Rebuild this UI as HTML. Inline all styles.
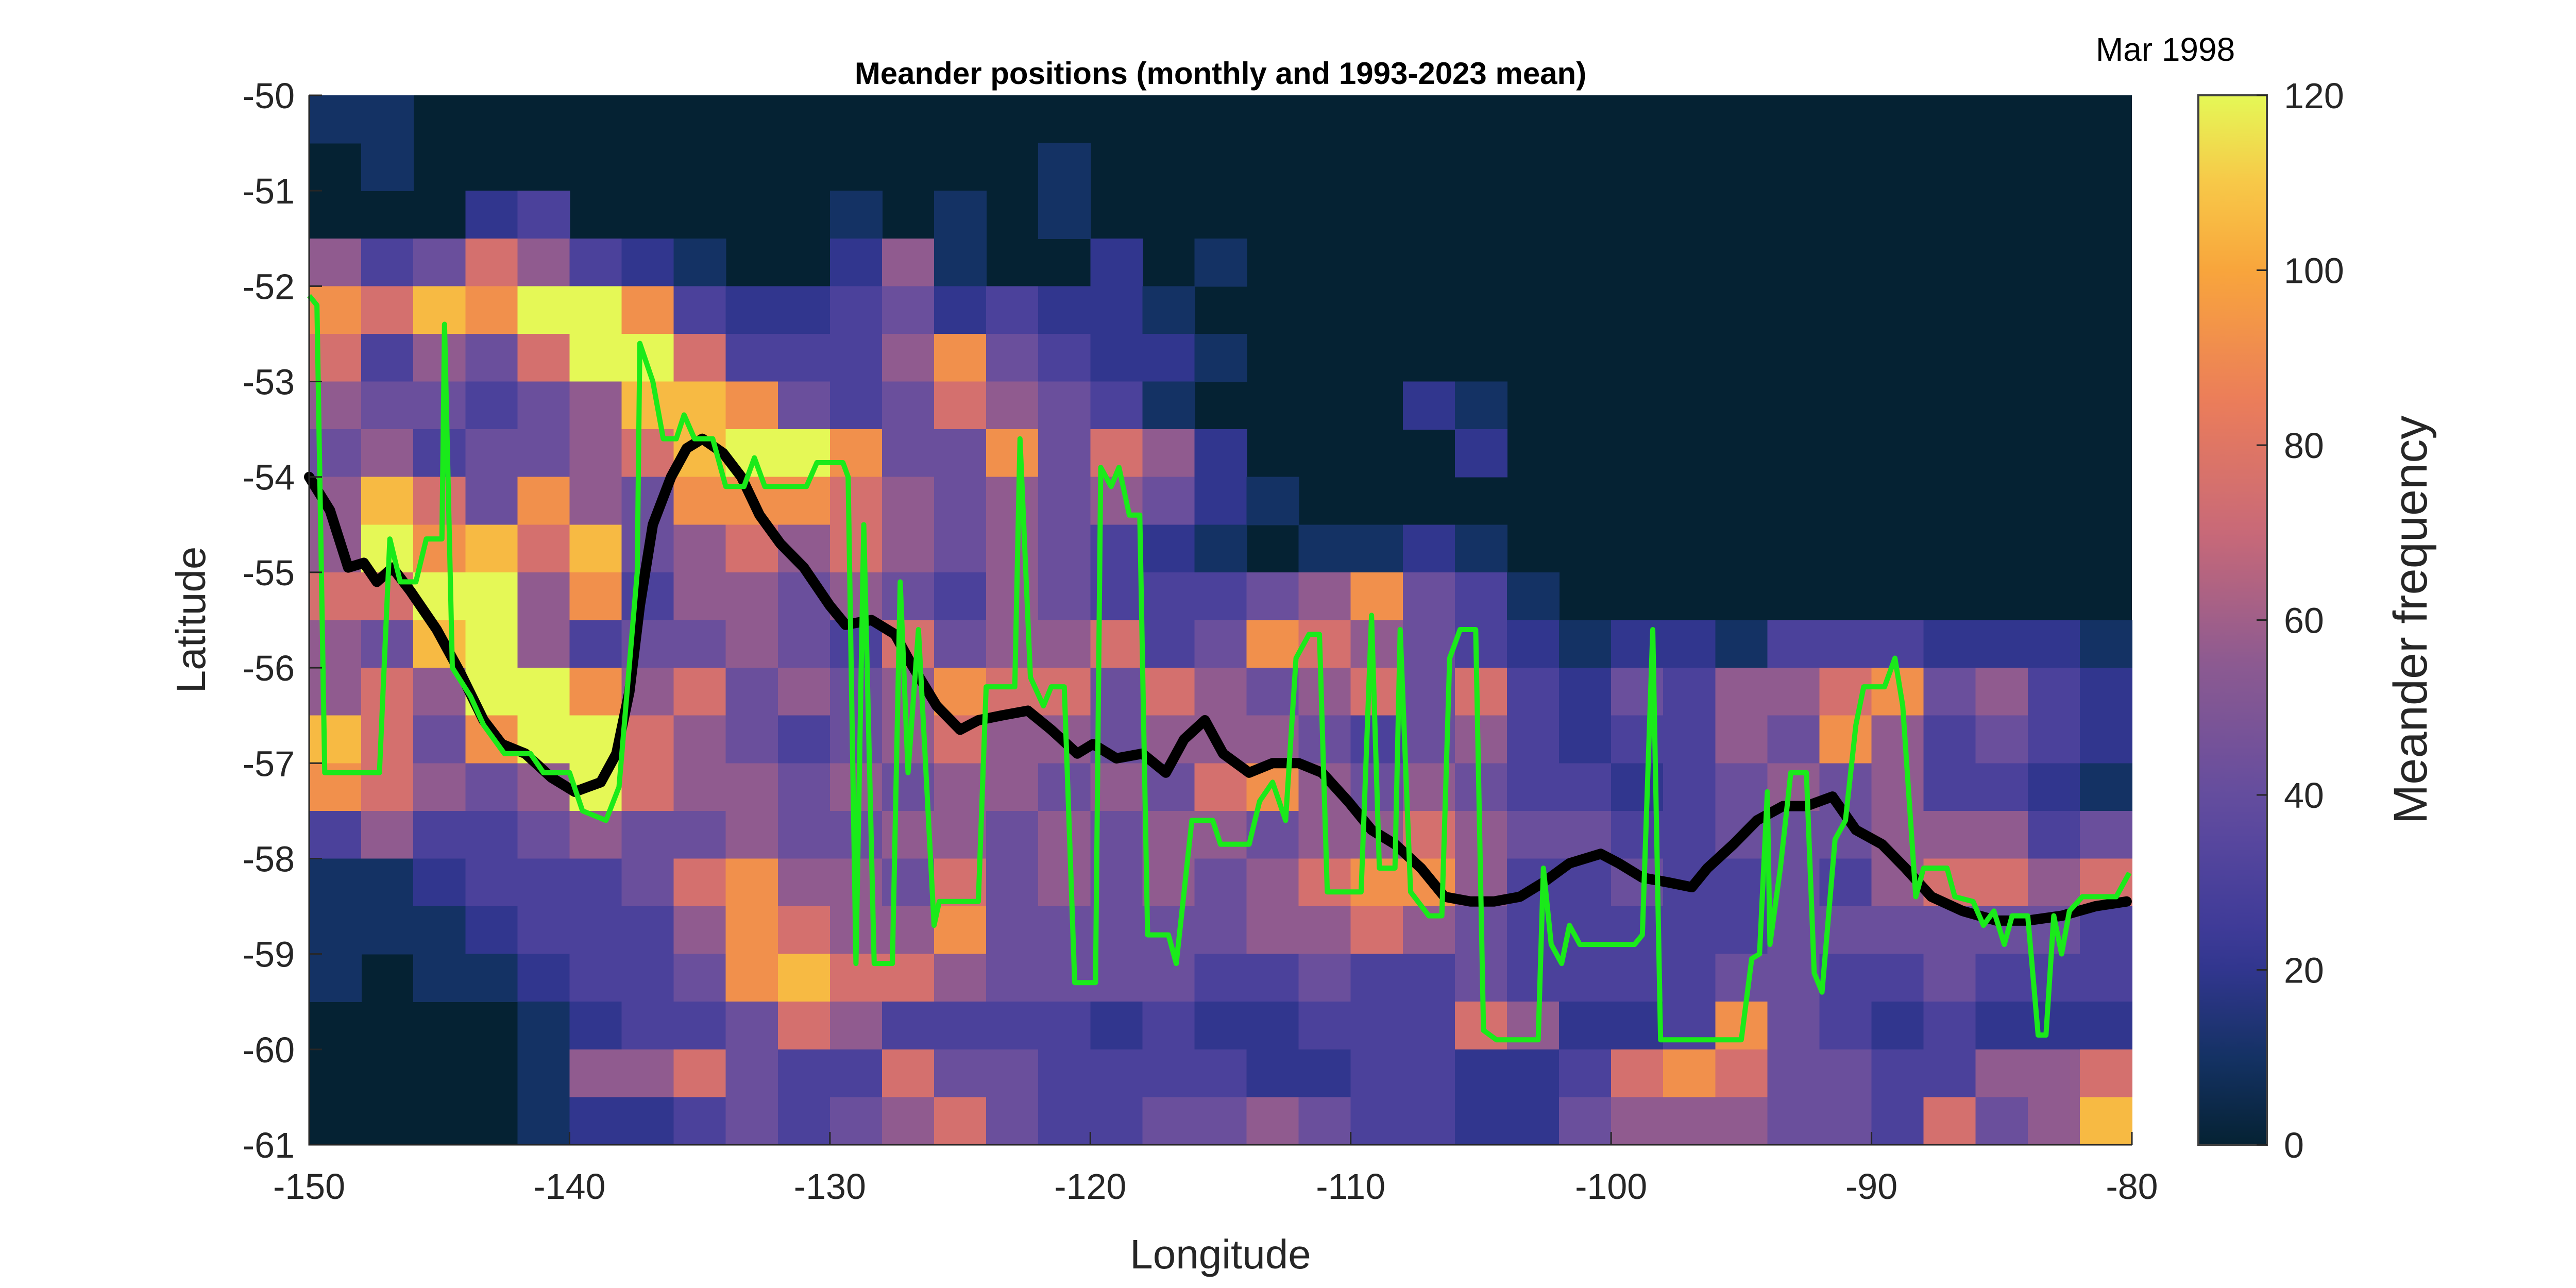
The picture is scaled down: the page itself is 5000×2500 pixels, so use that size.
<!DOCTYPE html>
<html><head><meta charset="utf-8"><style>
html,body{margin:0;padding:0;background:#fff}
svg{display:block}
text{font-family:"Liberation Sans",Arial,sans-serif;fill:#262626}
</style></head><body>
<svg id="chart" width="5000" height="2500" viewBox="0 0 5000 2500"></svg>
<script>
// ---- data ----
const lonTicks = [-150,-140,-130,-120,-110,-100,-90,-80];
const latTicks = [-50,-51,-52,-53,-54,-55,-56,-57,-58,-59,-60,-61];
const cbTicks = [0,20,40,60,80,100,120];
const cellLon0 = -150, cellDLon = 2, cellLat0 = -50, cellDLat = 0.5;
// frequency level for each digit code
const digitLevels = [0,10,20,30,42,56,75,92,106,120];
// heatmap rows top (-50) to bottom (-61)
const heatRows = [
"11000000000000000000000000000000000",
"01000000000000100000000000000000000",
"00023000001010100000000000000000000",
"53465321002510020100000000000000000",
"76879973223423221000000000000000000",
"63546996333574322100000000000000000",
"54434588743465431000021000000000000",
"45344568997447465200002000000000000",
"58647547776545454210000000000000000",
"59786845656545432101121000000000000",
"66995735545435433345743100000000000",
"54895344543645563476543212213332221",
"56599756454576646545646324355674532",
"86479965434565545554345323354753432",
"76545965545455454675454332345453321",
"35334544544554545545565443344455534",
"11233346755464545456775334334356656",
"11123335765574444455654333334444443",
"10112334786654444334334333344334333",
"00001233465333323223336522374323222",
"00001556433644333322332236764433556",
"00001223434564334454332245554436458"
];
const meanLon = [-150,-149.2,-148.5,-147.9,-147.4,-146.8,-146.1,-145.1,-144.2,-143.3,-142.6,-141.7,-140.7,-139.8,-138.8,-138.2,-137.7,-137.3,-136.8,-136.1,-135.5,-134.9,-134.1,-133.4,-132.7,-131.9,-131,-130,-129.4,-128.4,-127.5,-126.9,-125.9,-125,-124.3,-123.4,-122.4,-121.5,-120.5,-119.9,-119,-118,-117.1,-116.4,-115.6,-114.9,-113.9,-113,-112,-111.1,-110.1,-109.2,-108.3,-107.3,-106.4,-105.4,-104.5,-103.5,-102.6,-101.6,-101,-100.4,-99.7,-98.8,-97.8,-96.9,-96.3,-95.3,-94.4,-93.4,-92.5,-91.5,-90.6,-89.6,-88.7,-87.7,-86.5,-85.2,-84,-82.7,-81.4,-80.2];
const meanLat = [-54,-54.35,-54.95,-54.9,-55.1,-54.95,-55.2,-55.6,-56.05,-56.55,-56.8,-56.9,-57.15,-57.3,-57.2,-56.9,-56.25,-55.35,-54.5,-54,-53.7,-53.6,-53.75,-54,-54.4,-54.7,-54.95,-55.35,-55.55,-55.5,-55.65,-55.95,-56.4,-56.65,-56.55,-56.5,-56.45,-56.65,-56.9,-56.8,-56.95,-56.9,-57.1,-56.75,-56.55,-56.9,-57.1,-57,-57,-57.1,-57.4,-57.7,-57.85,-58.1,-58.4,-58.45,-58.45,-58.4,-58.25,-58.05,-58,-57.95,-58.05,-58.2,-58.25,-58.3,-58.1,-57.85,-57.6,-57.45,-57.45,-57.35,-57.7,-57.85,-58.1,-58.4,-58.55,-58.65,-58.65,-58.6,-58.5,-58.45];
const monLon = [-150,-149.7,-149.4,-147.3,-146.9,-146.5,-145.9,-145.5,-144.9,-144.8,-144.5,-143.8,-143.3,-142.5,-141.5,-141,-140,-139.5,-138.6,-138.1,-137.4,-137.3,-136.8,-136.4,-135.9,-135.6,-135.2,-134.5,-134,-133.3,-132.9,-132.5,-130.9,-130.5,-129.5,-129.3,-129,-128.7,-128.3,-127.6,-127.3,-127,-126.6,-126,-125.8,-124.3,-124,-122.9,-122.7,-122.3,-121.8,-121.5,-121,-120.6,-119.8,-119.6,-119.2,-118.9,-118.5,-118.1,-117.8,-117,-116.7,-116.1,-115.3,-115,-113.9,-113.5,-113,-112.5,-112.1,-111.6,-111.2,-110.9,-109.6,-109.2,-108.9,-108.3,-108.1,-107.7,-107,-106.5,-106.2,-105.8,-105.2,-104.9,-104.4,-102.8,-102.6,-102.3,-101.9,-101.6,-101.2,-100.4,-99.1,-98.8,-98.4,-98.1,-95,-94.6,-94.3,-94,-93.9,-93.5,-93.1,-92.5,-92.2,-91.9,-91.4,-91,-90.6,-90.3,-89.5,-89.1,-88.8,-88.3,-88,-87.1,-86.8,-86.1,-85.7,-85.3,-84.9,-84.6,-84,-83.6,-83.3,-83,-82.7,-82.4,-81.9,-80.6,-80.1];
const monLat = [-52.1,-52.2,-57.1,-57.1,-54.65,-55.1,-55.1,-54.65,-54.65,-52.4,-56,-56.3,-56.6,-56.9,-56.9,-57.1,-57.1,-57.5,-57.6,-57.25,-55,-52.6,-53,-53.6,-53.6,-53.35,-53.6,-53.6,-54.1,-54.1,-53.8,-54.1,-54.1,-53.85,-53.85,-54,-59.1,-54.5,-59.1,-59.1,-55.1,-57.1,-55.6,-58.7,-58.45,-58.45,-56.2,-56.2,-53.6,-56.1,-56.4,-56.2,-56.2,-59.3,-59.3,-53.9,-54.1,-53.9,-54.4,-54.4,-58.8,-58.8,-59.1,-57.6,-57.6,-57.85,-57.85,-57.4,-57.2,-57.6,-55.9,-55.65,-55.65,-58.35,-58.35,-55.45,-58.1,-58.1,-55.6,-58.35,-58.6,-58.6,-55.9,-55.6,-55.6,-59.8,-59.9,-59.9,-58.1,-58.9,-59.1,-58.7,-58.9,-58.9,-58.9,-58.8,-55.6,-59.9,-59.9,-59.05,-59,-57.3,-58.9,-58.1,-57.1,-57.1,-59.2,-59.4,-57.8,-57.6,-56.6,-56.2,-56.2,-55.9,-56.4,-58.4,-58.1,-58.1,-58.4,-58.45,-58.7,-58.55,-58.9,-58.6,-58.6,-59.85,-59.85,-58.6,-59,-58.55,-58.4,-58.4,-58.15];

// ---- layout / scales ----
const PL=600, PR=4138, PT=185, PB=2222;
const CBL=4267, CBR=4400;
const x = lon => PL + (lon + 150) / 70 * (PR - PL);
const y = lat => PT + (-50 - lat) / 11 * (PB - PT);
const cy = v => PB - v / 120 * (PB - PT);
const stops = [[0,[5,34,51]],[10,[20,50,100]],[22,[55,55,150]],[38,[95,75,160]],[55,[140,90,145]],[70,[200,105,120]],[85,[235,125,90]],[100,[248,165,60]],[110,[247,200,72]],[120,[229,248,86]]];
function cmap(v){
  if(v<=0) return 'rgb(5,34,51)';
  for(let i=1;i<stops.length;i++){ if(v<=stops[i][0]){const a=stops[i-1],b=stops[i];const t=(v-a[0])/(b[0]-a[0]);
    return 'rgb('+a[1].map((c,k)=>Math.round(c+(b[1][k]-c)*t)).join(',')+')';}}
  return 'rgb(229,248,86)';
}
const NS='http://www.w3.org/2000/svg';
const svg=document.getElementById('chart');
function el(tag,attrs,parent){const e=document.createElementNS(NS,tag);for(const k in attrs)e.setAttribute(k,attrs[k]);(parent||svg).appendChild(e);return e;}

const bg=el('rect',{x:PL,y:PT,width:PR-PL,height:PB-PT,fill:'rgb(5,34,51)'});


const gHeat=el('g',{'shape-rendering':'crispEdges'});


heatRows.forEach((row,j)=>{
  for(let i=0;i<row.length;i++){
    const v=digitLevels[Number(row[i])];
    if(v<=0) continue;
    const lon0=cellLon0+i*cellDLon, lat0=cellLat0-j*cellDLat;
    const r=el('rect',{x:x(lon0),y:y(lat0),width:x(lon0+cellDLon)-x(lon0)+1,height:y(lat0-cellDLat)-y(lat0)+1,fill:cmap(v)},gHeat);
    
    
  }
});
const mp=el('polyline',{points:meanLon.map((l,i)=>x(l)+','+y(meanLat[i])).join(' '),fill:'none',stroke:'#000','stroke-width':20,'stroke-linejoin':'round','stroke-linecap':'round'});


const gp=el('polyline',{points:monLon.map((l,i)=>x(l)+','+y(monLat[i])).join(' '),fill:'none',stroke:'#1aea1a','stroke-width':10,'stroke-linejoin':'round'});



const axl=el('path',{d:`M${PL},${PT} V${PB} H${PR}`,fill:'none',stroke:'#262626','stroke-width':3});


latTicks.forEach(t=>{
  const tk=el('line',{x1:PL,x2:PL+25,y1:y(t),y2:y(t),stroke:'#262626','stroke-width':3});
  
  
  const tx=el('text',{x:PL-28,y:y(t)+25,'text-anchor':'end','font-size':70});
  tx.textContent=String(t);
  
  
});
lonTicks.forEach(t=>{
  const tk=el('line',{x1:x(t),x2:x(t),y1:PB,y2:PB-25,stroke:'#262626','stroke-width':3});
  
  
  const tx=el('text',{x:x(t),y:PB+105,'text-anchor':'middle','font-size':70});
  tx.textContent=String(t);
  
  
});
const defs=el('defs',{});
const lg=el('linearGradient',{id:'cbg',x1:0,y1:1,x2:0,y2:0},defs);
for(let v=0;v<=120;v+=5){el('stop',{offset:v/120,'stop-color':cmap(v)},lg);}
const cb=el('rect',{x:CBL,y:PT,width:CBR-CBL,height:PB-PT,fill:'url(#cbg)',stroke:'#404040','stroke-width':4});


cbTicks.forEach(t=>{
  const tk=el('line',{x1:CBR-20,x2:CBR,y1:cy(t),y2:cy(t),stroke:'#262626','stroke-width':3});
  
  
  const tx=el('text',{x:CBR+33,y:cy(t)+25,'font-size':70});
  tx.textContent=String(t);
  
  
});
</script>
<script>
(function(){
const svg=document.getElementById('chart');
function txt(s,attrs,name){const e=document.createElementNS('http://www.w3.org/2000/svg','text');for(const k in attrs)e.setAttribute(k,attrs[k]);e.textContent=s;svg.appendChild(e);

}
txt('Meander positions (monthly and 1993-2023 mean)',{x:2369,y:163,'text-anchor':'middle','font-size':60,'font-weight':'bold',style:'fill:#000'},'chart-title');
txt('Mar 1998',{x:4203,y:118,'text-anchor':'middle','font-size':64,style:'fill:#000'},'date-label');
txt('Longitude',{x:2369,y:2462,'text-anchor':'middle','font-size':80},'x-axis-title');
txt('Latitude',{x:0,y:0,'text-anchor':'middle','font-size':80,transform:'translate(398,1203) rotate(-90)'},'y-axis-title');
txt('Meander frequency',{x:0,y:0,'text-anchor':'middle','font-size':92,transform:'translate(4710,1203) rotate(-90)'},'colorbar-title');
})();
</script>
</body></html>
